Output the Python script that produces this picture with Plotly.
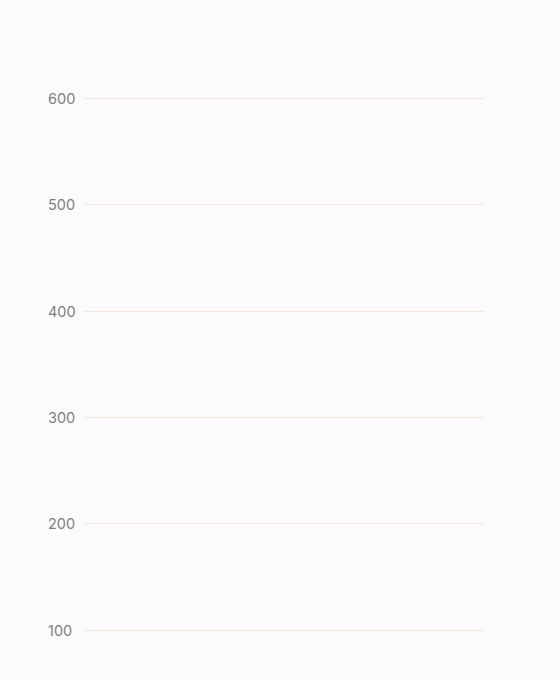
import plotly.graph_objects as go

# Data: the reference shows only the value axis, no marks are drawn
categories = []
values = []
y_ticks = [100, 200, 300, 400, 500, 600]
y_tick_labels = ["100", "200", "300", "400", "500", "600"]

fig = go.Figure()

fig.add_trace(go.Scatter(
    x=categories,
    y=values,
    mode="lines",
    line=dict(color="#e8a87c", width=2),
    showlegend=False,
))

fig.update_layout(
    width=560,
    height=680,
    paper_bgcolor="#fbfbfb",
    plot_bgcolor="#fbfbfb",
    margin=dict(l=84, r=76, t=77, b=2),
    font=dict(family="Inter, Lato, sans-serif", size=14, color="#7f7f7f"),
    showlegend=False,
)

fig.update_xaxes(
    visible=False,
    range=[0, 1],
    showgrid=False,
    zeroline=False,
)

fig.update_yaxes(
    range=[55, 620],
    tickvals=y_ticks,
    showticklabels=False,
    showgrid=True,
    gridcolor="#f8e4d6",
    gridwidth=1,
    zeroline=False,
    showline=False,
    ticks="",
)

# tick labels are left aligned in the reference, so place them as annotations
for val, label in zip(y_ticks, y_tick_labels):
    fig.add_annotation(
        x=-0.095, xref="paper", xanchor="left",
        y=val, yref="y", yanchor="middle",
        text=label, showarrow=False,
        font=dict(family="Inter, Lato, sans-serif", size=14.5, color="#7f7f7f"),
    )

# drop the browser's default page margin so the chart fills the window
page_css = "document.body.style.margin='0';document.body.style.background='#fbfbfb';"

fig.write_html("out.html", post_script=page_css, config={"displayModeBar": False})
